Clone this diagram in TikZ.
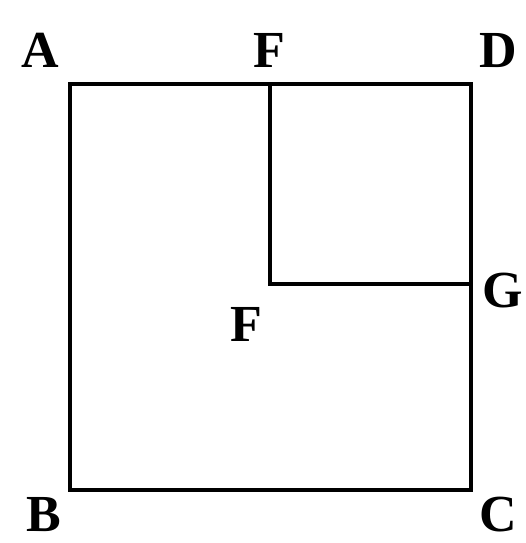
\documentclass[tikz,border=0pt]{standalone}
\usepackage{fontspec}
\setmainfont{Liberation Serif}
\begin{document}
\begin{tikzpicture}[x=1pt,y=-1pt,
  lbl/.style={font=\fontsize{52}{56}\selectfont\bfseries, inner sep=0pt, anchor=base, text depth=0pt},
  edge/.style={line width=4pt, line join=miter, line cap=rect}]
\useasboundingbox (0,0) rectangle (525,543);
\coordinate (pA) at (70,84);
\coordinate (pB) at (70,490);
\coordinate (pC) at (471,490);
\coordinate (pD) at (471,84);
\coordinate (pF) at (270,84);
\coordinate (pE) at (270,284);
\coordinate (pG) at (471,284);
\draw[edge] (pA) -- (pB) -- (pC) -- (pD) -- cycle;
\draw[edge] (pF) -- (pE) -- (pG);
\node[lbl] (A) at (40,67) {A};
\node[lbl] (F1) at (269,67) {F};
\node[lbl] (D) at (498,67) {D};
\node[lbl] (G) at (503,307) {G};
\node[lbl] (F2) at (246,341) {F};
\node[lbl] (B) at (44,531) {B};
\node[lbl] (C) at (498,531) {C};
\end{tikzpicture}
\end{document}
